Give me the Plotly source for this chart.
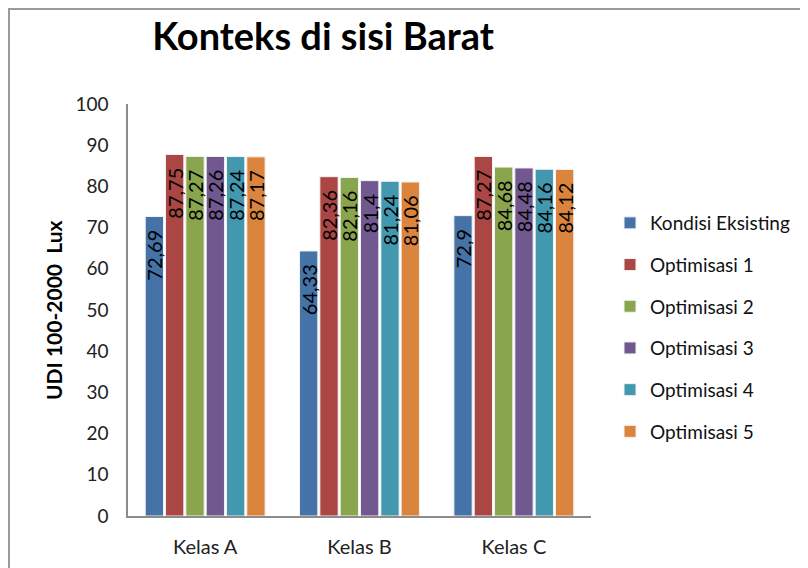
import plotly.graph_objects as go

categories = ["Kelas A", "Kelas B", "Kelas C"]
series_names = ["Kondisi Eksisting", "Optimisasi 1", "Optimisasi 2",
                "Optimisasi 3", "Optimisasi 4", "Optimisasi 5"]
kondisi_eksisting = [72.69, 64.33, 72.9]
optimisasi_1 = [87.75, 82.36, 87.27]
optimisasi_2 = [87.27, 82.16, 84.68]
optimisasi_3 = [87.26, 81.4, 84.48]
optimisasi_4 = [87.24, 81.24, 84.16]
optimisasi_5 = [87.17, 81.06, 84.12]
y_ticks = [0, 10, 20, 30, 40, 50, 60, 70, 80, 90, 100]

series_values = [kondisi_eksisting, optimisasi_1, optimisasi_2,
                 optimisasi_3, optimisasi_4, optimisasi_5]
colors = ["#4572A7", "#AA4643", "#89A54E", "#71588F", "#4198AF", "#DB843D"]

FONT = "Lato"
NB = "\u00a0"

fig = go.Figure()
for name, vals, col in zip(series_names, series_values, colors):
    fig.add_trace(go.Bar(
        name=name, x=categories, y=vals,
        marker=dict(color=col, line=dict(color="#F2F2F2", width=1)),
        text=[f"{v:g}".replace(".", ",") + NB * 2 for v in vals],
        textposition="inside", insidetextanchor="end", textangle=-90,
        constraintext="none",
        textfont=dict(family=FONT, size=20, color="#000000"),
        legendgroup=name,
    ))

# figure coordinates (page body adds an 8px offset)
W, H = 800, 560
L, R, T, B = 120, 217, 96, 52
pw = W - L - R
ph = H - T - B

fig.update_layout(
    width=W, height=H,
    margin=dict(l=L, r=R, t=T, b=B, autoexpand=False),
    paper_bgcolor="white", plot_bgcolor="white",
    barmode="group", bargap=0.21, bargroupgap=0.1,
    title=dict(text="<b>Konteks di sisi Barat</b>", x=315 / W, xanchor="center",
               y=1 - 29 / H, yanchor="middle", xref="container", yref="container",
               font=dict(family=FONT, size=38, color="#000000")),
    font=dict(family=FONT, color="#222222"),
    legend=dict(x=(602 - L) / pw, xanchor="left", y=(508 - 319.5) / ph, yanchor="middle",
                font=dict(family=FONT, size=19, color="#111111"),
                tracegroupgap=14, itemwidth=30, bgcolor="rgba(0,0,0,0)"),
    xaxis=dict(showline=True, linecolor="#8C8C8C", linewidth=1.5, ticks="",
               tickfont=dict(family=FONT, size=20, color="#222222"),
               ticklabelstandoff=12, showgrid=False, fixedrange=True),
    yaxis=dict(range=[0, 100], tickvals=y_ticks, showline=True, linecolor="#8C8C8C",
               linewidth=1.5, ticks="", showgrid=False, zeroline=False,
               tickfont=dict(family=FONT, size=19, color="#222222"),
               ticklabelstandoff=14),
    annotations=[dict(text="<b>UDI 100-2000  Lux</b>", textangle=-90,
                      x=(45 - L) / pw, y=0.5, xref="paper", yref="paper",
                      showarrow=False, xanchor="center", yanchor="middle",
                      font=dict(family=FONT, size=21, color="#000000"))],
    shapes=[dict(type="rect", xref="paper", yref="paper",
                 x0=(1 - L) / pw, y0=-1, x1=2, y1=(508 - 1) / ph,
                 line=dict(color="#9A9A9A", width=2), fillcolor="rgba(0,0,0,0)",
                 layer="below")],
)

fig.write_html("out.html")
